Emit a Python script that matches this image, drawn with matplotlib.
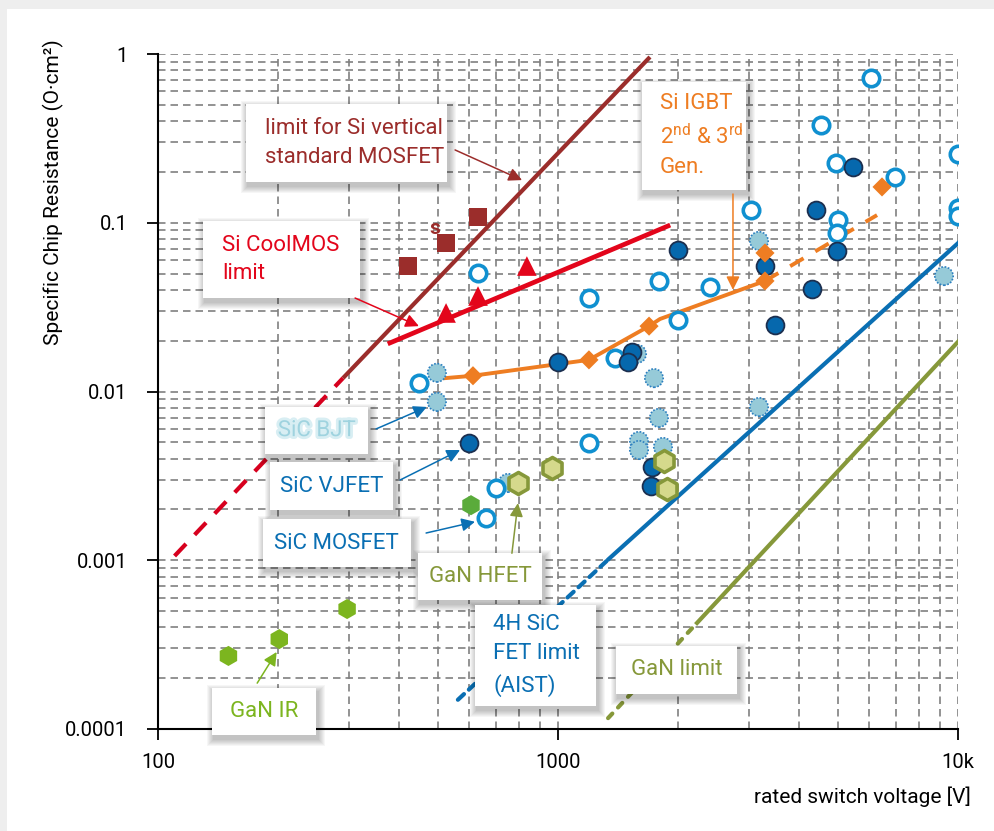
import matplotlib
matplotlib.use('Agg')
import matplotlib.pyplot as plt
from matplotlib.patches import Rectangle
from matplotlib import patheffects as pe

plt.rcParams['font.family'] = ['Roboto', 'DejaVu Sans']
plt.rcParams['mathtext.fontset'] = 'custom'
plt.rcParams['mathtext.rm'] = 'Roboto'

# rated voltage [V] / specific on-resistance [Ohm cm2] of published devices
sic_mosfet_v = [631, 1195, 1788, 1995, 449, 1388, 6060, 4545, 4955, 6960, 10000, 10000,
                10000, 3038, 5012, 4983, 2399, 1195, 700, 661]
sic_mosfet_r = [0.0504, 0.0358, 0.0452, 0.0265, 0.0112, 0.0158, 0.721, 0.380, 0.226, 0.187,
                0.255, 0.122, 0.110, 0.119, 0.104, 0.087, 0.0416, 0.00495, 0.00268, 0.00178]

sic_vjfet_v = [1000, 1995, 1531, 1496, 5464, 4416, 4983, 3292, 4315, 3486, 599, 1718, 1706]
sic_vjfet_r = [0.0150, 0.069, 0.0171, 0.0150, 0.214, 0.119, 0.068, 0.0554, 0.0405, 0.0248,
               0.00495, 0.00357, 0.00275]

sic_bjt_v = [498, 498, 1576, 1738, 1788, 1594, 1594, 1830, 750, 3181, 3181, 9226]
sic_bjt_r = [0.0129, 0.00867, 0.0167, 0.0120, 0.00697, 0.00509, 0.00450, 0.00469, 0.00287,
             0.078, 0.00809, 0.0483]

gan_hfet_v = [794, 966, 1841, 1873]
gan_hfet_r = [0.00287, 0.00352, 0.00387, 0.00264]

gan_ir_v = [150, 201, 297]
gan_ir_r = [0.000271, 0.000341, 0.000514]

gan_other_v = [606]
gan_other_r = [0.00212]

si_mos_v = [422, 525, 631]
si_mos_r = [0.0554, 0.0759, 0.108]

coolmos_v = [525, 631, 836]
coolmos_r = [0.0292, 0.0368, 0.0554]

igbt_line_v = [522, 613, 1195, 1689, 1799, 3292]
igbt_line_r = [0.0120, 0.0124, 0.0154, 0.0244, 0.0269, 0.0452]
igbt_dash_v = [3292, 6275]
igbt_dash_r = [0.0452, 0.111]
igbt_v = [613, 1195, 1689, 3292, 3292, 6457]
igbt_r = [0.0124, 0.0154, 0.0244, 0.0452, 0.0662, 0.163]

# material limit lines
si_limit_v = [290, 1698]
si_limit_r = [0.012, 0.96]
si_limit_ext_v = [110, 290]
si_limit_ext_r = [0.00106, 0.012]
coolmos_limit_v = [380, 1884]
coolmos_limit_r = [0.0194, 0.0957]
sic_limit_v = [1341, 10000]
sic_limit_r = [0.00102, 0.0757]
sic_limit_ext_v = [562, 1341]
sic_limit_ext_r = [0.000149, 0.00102]
gan_limit_v = [2226, 10000]
gan_limit_r = [0.000425, 0.0197]
gan_limit_ext_v = [1334, 2226]
gan_limit_ext_r = [0.000116, 0.000425]

y_ticks = [0.0001, 0.001, 0.01, 0.1, 1]
y_ticklabels = ['0.0001', '0.001', '0.01', '0.1', '1']
x_ticks = [100, 1000, 10000]
x_ticklabels = ['100', '1000', '10k']

BROWN = '#9b2d2b'
RED = '#e3051b'
ORANGE = '#ee7d22'
BLUE = '#0a6fb3'
LBLUE = '#1090d0'
OLIVE = '#86983a'
GREEN = '#7cb51f'

fig = plt.figure(figsize=(9.95, 8.31), dpi=100, facecolor='#eeeeee')
fig.patches.append(Rectangle((7 / 995, 0), 1, 1 - 9 / 831, transform=fig.transFigure,
                             fc='white', ec='none', zorder=-5))
ax = fig.add_axes([158 / 995, 102 / 831, 800 / 995, 675 / 831])
ax.set_xscale('log')
ax.set_yscale('log')
ax.set_xlim(100, 10000)
ax.set_ylim(0.0001, 1)

for s in ['top', 'right']:
    ax.spines[s].set_visible(False)
for s in ['left', 'bottom']:
    ax.spines[s].set_linewidth(1.5)

ax.grid(True, which='both', color='#808080', lw=1.2, ls=(0, (4.5, 3)))
ax.set_axisbelow(True)
ax.set_yticks(y_ticks)
ax.set_yticklabels(y_ticklabels)
ax.set_xticks(x_ticks)
ax.set_xticklabels(x_ticklabels)
ax.tick_params(which='major', direction='out', length=8, width=1.3, labelsize=14.5)
ax.tick_params(axis='y', pad=14)
ax.tick_params(axis='x', pad=9)
ax.tick_params(which='minor', length=0)

# limit lines
ax.plot(si_limit_v, si_limit_r, color=BROWN, lw=3, solid_capstyle='butt', zorder=2)
ax.plot(si_limit_ext_v, si_limit_ext_r, color='#d7001e', lw=3, ls=(0, (4, 3)), zorder=2)
ax.plot(coolmos_limit_v, coolmos_limit_r, color=RED, lw=3.4, zorder=2)
ax.plot(sic_limit_v, sic_limit_r, color=BLUE, lw=3, zorder=2)
ax.plot(sic_limit_ext_v, sic_limit_ext_r, color=BLUE, lw=3, ls=(0, (2, 1.6)),
        dash_capstyle='round', zorder=2)
ax.plot(gan_limit_v, gan_limit_r, color=OLIVE, lw=3, zorder=2)
ax.plot(gan_limit_ext_v, gan_limit_ext_r, color=OLIVE, lw=3, ls=(0, (1.5, 2)),
        dash_capstyle='round', zorder=2)
ax.plot(igbt_line_v, igbt_line_r, color=ORANGE, lw=2.8, zorder=2)
ax.plot(igbt_dash_v, igbt_dash_r, color=ORANGE, lw=2.8, ls=(0, (4, 3.5)), zorder=2)

# device markers
ax.scatter(sic_bjt_v, sic_bjt_r, s=175, c='#96cad8', edgecolors='#2c7fbf', linewidths=1.2,
           linestyles=(0, (1, 1)), zorder=3)
ax.scatter(sic_mosfet_v, sic_mosfet_r, s=140, c='white', edgecolors=LBLUE, linewidths=2.6, zorder=4)
ax.scatter(sic_vjfet_v, sic_vjfet_r, s=165, c='#0668ad', edgecolors='#1c2f4f', linewidths=1.3, zorder=5)
ax.scatter(gan_hfet_v, gan_hfet_r, s=250, marker='h', c='#d5d98c', edgecolors=OLIVE,
           linewidths=2.6, zorder=6)
ax.scatter(gan_ir_v, gan_ir_r, s=210, marker='h', c=GREEN, edgecolors='none', zorder=6)
ax.scatter(gan_other_v, gan_other_r, s=210, marker='h', c='#5aab3b', edgecolors='none', zorder=6)
ax.scatter(si_mos_v, si_mos_r, s=165, marker='s', c=BROWN, edgecolors='none', zorder=6)
ax.scatter(coolmos_v, coolmos_r, s=200, marker='^', c=RED, edgecolors='none', zorder=6)
ax.scatter(igbt_v, igbt_r, s=95, marker='D', c=ORANGE, edgecolors='none', zorder=6)
ax.text(492, 0.093, 's', color=BROWN, fontsize=15, fontweight='bold', ha='center', va='center',
        zorder=6)

# labelled boxes with soft shadow
px, py = 1 / 800, 1 / 675


def label_box(x0, x1, y0, y1, text, color, tx=None, fs=16, **kw):
    for k in range(1, 8):
        ax.add_patch(Rectangle((x0 - k * px + 2 * px, y0 - k * py - 4 * py),
                               (x1 - x0) + 2 * k * px, (y1 - y0) + 2 * k * py,
                               transform=ax.transAxes, fc='black', ec='none', alpha=0.035,
                               zorder=9, clip_on=False))
    ax.add_patch(Rectangle((x0, y0), x1 - x0, y1 - y0, transform=ax.transAxes,
                           fc='white', ec='none', zorder=10, clip_on=False))
    if tx is None:
        t = ax.text((x0 + x1) / 2, (y0 + y1) / 2, text, color=color, fontsize=fs,
                    ha='center', va='center', transform=ax.transAxes, zorder=11, **kw)
    else:
        t = ax.text(tx, (y0 + y1) / 2, text, color=color, fontsize=fs,
                    ha='left', va='center', transform=ax.transAxes, zorder=11, **kw)
    return t


label_box(0.110, 0.361, 0.810, 0.926, 'limit for Si vertical\nstandard MOSFET', BROWN, tx=0.134,
          linespacing=1.45)
label_box(0.056, 0.253, 0.639, 0.753, 'Si CoolMOS\nlimit', RED, tx=0.080, linespacing=1.45)
label_box(0.605, 0.735, 0.799, 0.959, 'Si IGBT\n2$^{\\rm nd}$ & 3$^{\\rm rd}$\nGen.', ORANGE,
          tx=0.6275, linespacing=1.5)
label_box(0.134, 0.263, 0.407, 0.477, 'SiC BJT', '#9fd3df',
          path_effects=[pe.withStroke(linewidth=4, foreground='#d8eef3')])
label_box(0.140, 0.294, 0.324, 0.396, 'SiC VJFET', BLUE)
label_box(0.131, 0.316, 0.240, 0.311, 'SiC MOSFET', BLUE)
label_box(0.325, 0.480, 0.191, 0.261, 'GaN HFET', OLIVE)
label_box(0.068, 0.198, -0.009, 0.061, 'GaN IR', GREEN)
label_box(0.396, 0.548, 0.034, 0.184, '4H SiC\nFET limit\n(AIST)', BLUE, tx=0.419, linespacing=1.55)
label_box(0.573, 0.724, 0.052, 0.123, 'GaN limit', OLIVE)

# arrows from the boxes to the marks
arrows = [((553, 0.27), (813, 0.179), BROWN),
          ((311, 0.0358), (449, 0.0244), RED),
          ((2738, 0.148), (2738, 0.040), ORANGE),
          ((351, 0.006), (470, 0.0081), BLUE),
          ((403, 0.00299), (569, 0.0045), BLUE),
          ((468, 0.00145), (620, 0.00169), BLUE),
          ((767, 0.0011), (794, 0.00218), OLIVE),
          ((177, 0.000187), (198, 0.000286), GREEN)]
for tail, head, col in arrows:
    ax.annotate('', xy=head, xytext=tail,
                arrowprops=dict(arrowstyle='-|>', color=col, lw=1.1, mutation_scale=20,
                                shrinkA=0, shrinkB=0), zorder=12)

ax.set_ylabel('Specific Chip Resistance (O\u00b7cm\u00b2)', fontsize=15)
ax.yaxis.set_label_coords(-0.118, 0.795)
ax.set_xlabel('rated switch voltage [V]', fontsize=15, loc='right')
ax.xaxis.set_label_coords(1.016, -0.085)

fig.savefig('out.png', dpi=100, facecolor=fig.get_facecolor())
